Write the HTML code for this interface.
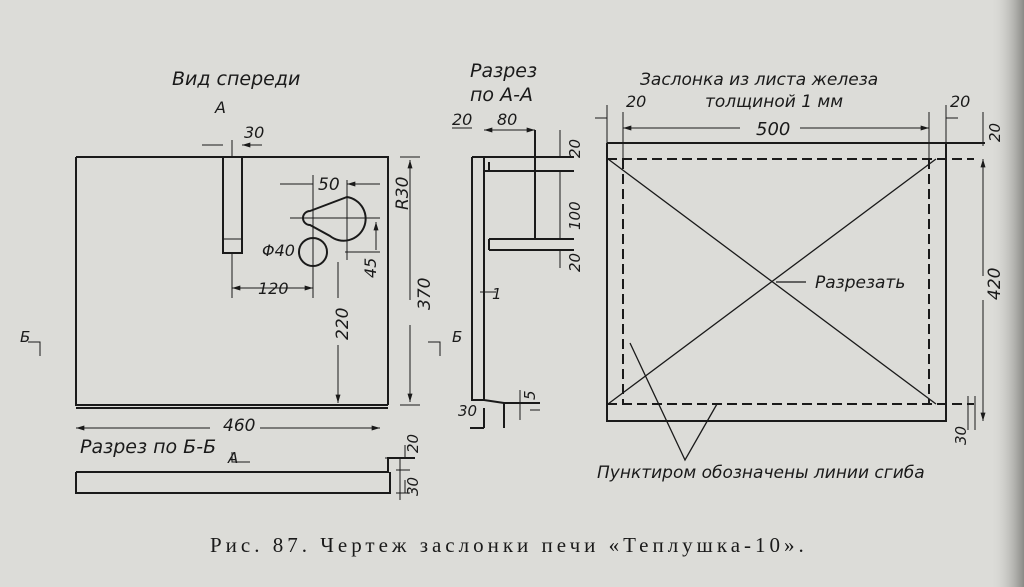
<!DOCTYPE html>
<html><head><meta charset="utf-8"><style>
html,body{margin:0;padding:0;}
body{width:1024px;height:587px;overflow:hidden;background:#dcdcd8;}
svg{display:block}
.t{font-family:"DejaVu Sans","Liberation Sans",sans-serif;font-style:italic;fill:#1a1a1a;}
</style></head><body>
<svg width="1024" height="587" viewBox="0 0 1024 587" xmlns="http://www.w3.org/2000/svg">
<defs>
<linearGradient id="edge" x1="0" x2="1"><stop offset="0" stop-color="#dcdcd8" stop-opacity="0"/><stop offset="1" stop-color="#8a8a86"/></linearGradient>
<marker id="a" viewBox="0 0 10 6" refX="10" refY="3" markerWidth="10" markerHeight="5" markerUnits="userSpaceOnUse" orient="auto-start-reverse"><path d="M0,0L10,3L0,6z" fill="#1a1a1a"/></marker>
</defs>
<rect width="1024" height="587" fill="#dcdcd8"/>
<rect x="990" y="0" width="34" height="587" fill="url(#edge)"/>
<g stroke="#1a1a1a" fill="none" stroke-width="2">
<path d="M76,157H388V405M76,157V405H388M76,408H388"/>
<rect x="223" y="157" width="19" height="96"/>
<path d="M223,239H242M232,140V157" stroke-width="1"/>
<path d="M202,145H223M262,145H242" stroke-width="1" marker-end="url(#a)"/>
<circle cx="313" cy="252" r="14"/>
<path d="M310,211 L347,197 A22,22 0 1 1 330,236 L310,225 A7,7 0 0 1 310,211z"/>
<g stroke-width="1">
<path d="M313,175V298M290,218H380M347,180V260M345,252H380M232,253V298"/>
<path d="M280,184H313M380,184H347" marker-end="url(#a)"/>
<path d="M232,288H313" marker-start="url(#a)" marker-end="url(#a)"/>
<path d="M400,157H420M400,405H420"/>
<path d="M410,160V300M410,325V402" marker-start="url(#a)" marker-end="url(#a)"/>
<path d="M338,262V298M338,345V403" marker-end="url(#a)"/>
<path d="M376,222V250" marker-start="url(#a)"/>
<path d="M76,428H210M260,428H380" marker-start="url(#a)" marker-end="url(#a)"/>
<path d="M385,458H400V500M396,470H410M396,493H410M405,445V458M405,480V493"/>
<path d="M28,342H40V356M428,342H440V356M480,292H496"/>
</g>
<path d="M76,472H388V458H415M76,472V493H390V472"/>
<path d="M232,452V462H250" stroke-width="1"/>
<path d="M472,157V400H484L504,403V428M484,157V400M472,157H484"/>
<path d="M484,157H574M484,171H574M489,171V162M535,130V238M489,239H574M489,250H574M489,250V239M504,403H540M484,428V408M470,428H484"/>
<g stroke-width="1"><path d="M452,128H472M560,130V157M560,171V238M560,250V268M530,410H540M520,390V420"/>
<path d="M484,130H535" marker-start="url(#a)" marker-end="url(#a)"/></g>
<path d="M607,143V421H946V143M607,143H946M946,143H985"/>
<path d="M607,159H974M623,159V404M929,159V404M607,404H974" stroke-dasharray="10,5"/>
<path d="M608,159L936,404M936,159L608,404M630,343L685,460L717,404M776,282H806" stroke-width="1.3"/>
<g stroke-width="1"><path d="M595,118H607M958,118H946M607,105V143M623,112V159M929,112V159M946,105V143M983,112V146M968,396V430M975,396V430"/>
<path d="M623,128H740M800,128H929" marker-start="url(#a)" marker-end="url(#a)"/>
<path d="M983,159V276M983,300V421" marker-start="url(#a)" marker-end="url(#a)"/></g>
</g>
<g class="t">
<text x="172" y="85" font-size="19">Вид спереди</text>
<text x="215" y="113" font-size="16">А</text>
<text x="244" y="138" font-size="16">30</text>
<text x="318" y="190" font-size="17">50</text>
<text x="262" y="256" font-size="16">Φ40</text>
<text x="258" y="294" font-size="16">120</text>
<text transform="translate(408,210) rotate(-90)" font-size="17">R30</text>
<text transform="translate(376,278) rotate(-90)" font-size="16">45</text>
<text transform="translate(348,340) rotate(-90)" font-size="17">220</text>
<text transform="translate(430,310) rotate(-90)" font-size="17">370</text>
<text x="223" y="431" font-size="17">460</text>
<text x="80" y="453" font-size="19">Разрез по Б-Б</text>
<text x="228" y="463" font-size="15">А</text>
<text transform="translate(418,453) rotate(-90)" font-size="15">20</text>
<text transform="translate(418,496) rotate(-90)" font-size="15">30</text>
<text x="20" y="342" font-size="15">Б</text>
<text x="452" y="342" font-size="15">Б</text>
<text x="470" y="77" font-size="19">Разрез</text>
<text x="470" y="101" font-size="19">по А-А</text>
<text x="452" y="125" font-size="16">20</text>
<text x="497" y="125" font-size="16">80</text>
<text transform="translate(580,158) rotate(-90)" font-size="15">20</text>
<text transform="translate(580,230) rotate(-90)" font-size="15">100</text>
<text transform="translate(580,272) rotate(-90)" font-size="15">20</text>
<text x="492" y="299" font-size="15">1</text>
<text transform="translate(535,400) rotate(-90)" font-size="15">5</text>
<text x="458" y="416" font-size="15">30</text>
<text x="640" y="85" font-size="17">Заслонка из листа железа</text>
<text x="705" y="107" font-size="17">толщиной 1 мм</text>
<text x="626" y="107" font-size="16">20</text>
<text x="950" y="107" font-size="16">20</text>
<text x="756" y="135" font-size="18">500</text>
<text transform="translate(1000,142) rotate(-90)" font-size="15">20</text>
<text transform="translate(1000,300) rotate(-90)" font-size="17">420</text>
<text transform="translate(966,445) rotate(-90)" font-size="15">30</text>
<text x="815" y="288" font-size="17">Разрезать</text>
<text x="597" y="478" font-size="17">Пунктиром обозначены линии сгиба</text>
</g>
<text x="210" y="552" font-family="'Liberation Serif',serif" font-size="21" letter-spacing="4" fill="#1a1a1a">Рис. 87. Чертеж заслонки печи «Теплушка-10».</text>
</svg>
</body></html>
